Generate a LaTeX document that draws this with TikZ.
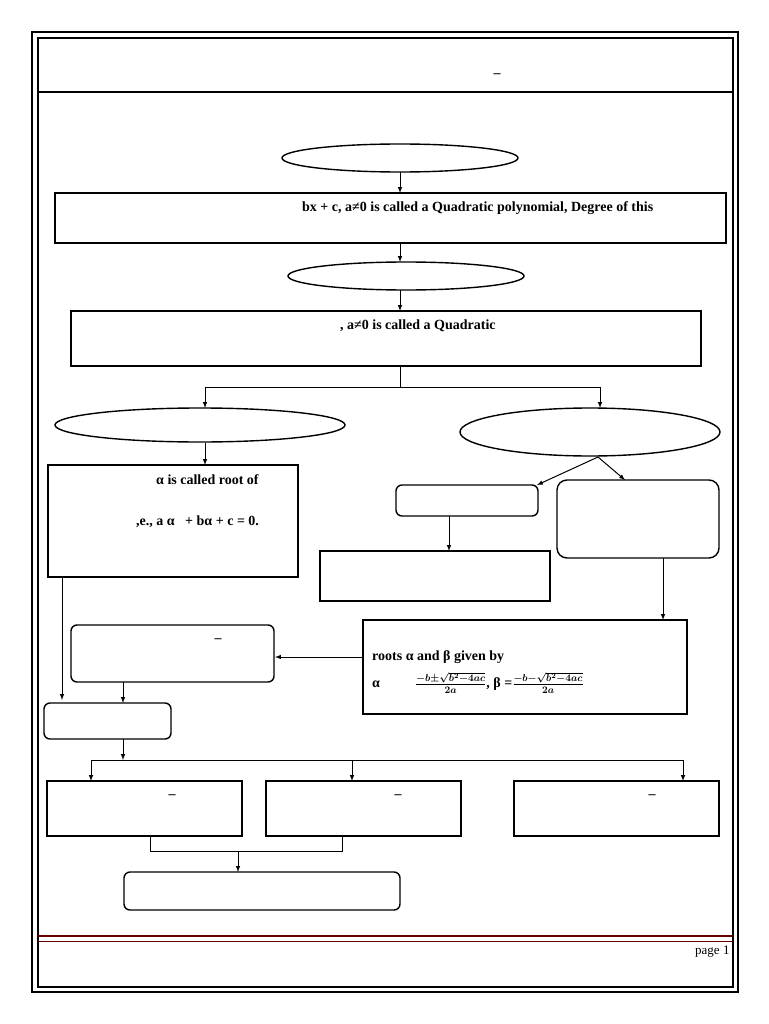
\documentclass[tikz,border=0pt]{standalone}
\usepackage{fontspec}
\setmainfont{Liberation Serif}
\usepackage{amsmath}
\begin{document}
\begin{tikzpicture}[x=1pt,y=-1pt,
  box/.style={draw,line width=1.4pt},
  rbox/.style={draw,line width=1.4pt,rounded corners=6pt},
  ell/.style={draw,line width=1.4pt},
  arr/.style={->,>=latex,line width=1pt},
  t/.style={font=\bfseries\fontsize{14}{16}\selectfont,inner sep=0}]
\useasboundingbox (0,0) rectangle (768,1024);
\draw[line width=2pt] (32,32) rectangle (738,992);
\draw[line width=1.2pt] (38,38) rectangle (733,987);
\draw[line width=1.4pt] (38,92) -- (733,92);
\node[t] (d0) at (497,76) {–};
\draw[line width=2pt,red!40!black] (38,936) -- (733,936);
\draw[line width=1pt,red!40!black] (38,941) -- (733,941);
\node[font=\fontsize{13}{15}\selectfont,inner sep=0,anchor=west] (pg) at (695,952) {page 1};
\draw[ell] (400,158) ellipse (118 and 14); \coordinate (e1) at (400,172);
\draw[box] (55,193) rectangle (726,243); \coordinate (b1t) at (400,193);
\node[t,anchor=west] (t1) at (302,208) {bx + c, a≠0 is called a Quadratic polynomial, Degree of this};
\draw[arr] (e1) -- (b1t);
\coordinate (b1b) at (400,243); \coordinate (e2t) at (400,262);
\draw[arr] (b1b) -- (e2t);
\draw[ell] (406,276) ellipse (118 and 14);
\coordinate (e2b) at (400,290); \coordinate (b2t) at (400,311);
\draw[arr] (e2b) -- (b2t);
\draw[box] (71,311) rectangle (701,366);
\node[t,anchor=west] (t2) at (340,326) {, a≠0 is called a Quadratic};
\coordinate (b2b) at (400,366);
\draw[line width=1pt] (b2b) -- (400,387);
\draw[line width=1pt] (205,387) -- (600,387);
\draw[arr] (205,387) -- (205,408);
\draw[arr] (600,387) -- (600,408);
\draw[ell] (200,425) ellipse (145 and 17);
\draw[ell] (590,432) ellipse (130 and 24);
\draw[arr] (205,443) -- (205,465);
\draw[box] (48,465) rectangle (298,577);
\node[t,anchor=west] (t3) at (156,480) {α is called root of};
\node[t,anchor=west] (t4) at (136,522) {,e., a α \ \ + bα + c = 0.};
\draw[arr] (598,457) -- (537,485);
\draw[arr] (598,457) -- (625,480);
\draw[rbox] (396,485) rectangle (538,516);
\draw[rbox,rounded corners=10pt] (557,480) rectangle (719,558);
\draw[arr] (449,516) -- (449,551);
\draw[box] (320,551) rectangle (550,601);
\draw[arr] (663,558) -- (663,620);
\draw[box] (363,620) rectangle (687,714);
\node[t,anchor=west] (t5) at (372,657) {roots α and β given by};
\node[t,anchor=west] (t6) at (372,683) {α \qquad\ $\boldsymbol{\frac{-b\pm\sqrt{b^2-4ac}}{2a}}$, β =$\boldsymbol{\frac{-b-\sqrt{b^2-4ac}}{2a}}$};
\draw[arr] (363,657) -- (275,657);
\draw[rbox] (71,625) rectangle (274,682);
\node[t] (d1) at (218,641) {–};
\draw[arr] (62,577) -- (62,700);
\draw[arr] (123,682) -- (123,703);
\draw[rbox] (44,703) rectangle (171,739);
\draw[arr] (123,739) -- (123,760);
\draw[line width=1pt] (91,760) -- (683,760);
\draw[arr] (91,760) -- (91,781);
\draw[arr] (352,760) -- (352,781);
\draw[arr] (683,760) -- (683,781);
\draw[box] (47,781) rectangle (242,836);
\draw[box] (266,781) rectangle (461,836);
\draw[box] (514,781) rectangle (719,836);
\node[t] (d2) at (172,797) {–};
\node[t] (d3) at (398,797) {–};
\node[t] (d4) at (652,797) {–};
\draw[line width=1pt] (150,836) -- (150,851) -- (342,851) -- (342,836);
\draw[arr] (238,851) -- (238,872);
\draw[rbox] (124,872) rectangle (400,910);
\end{tikzpicture}
\end{document}
